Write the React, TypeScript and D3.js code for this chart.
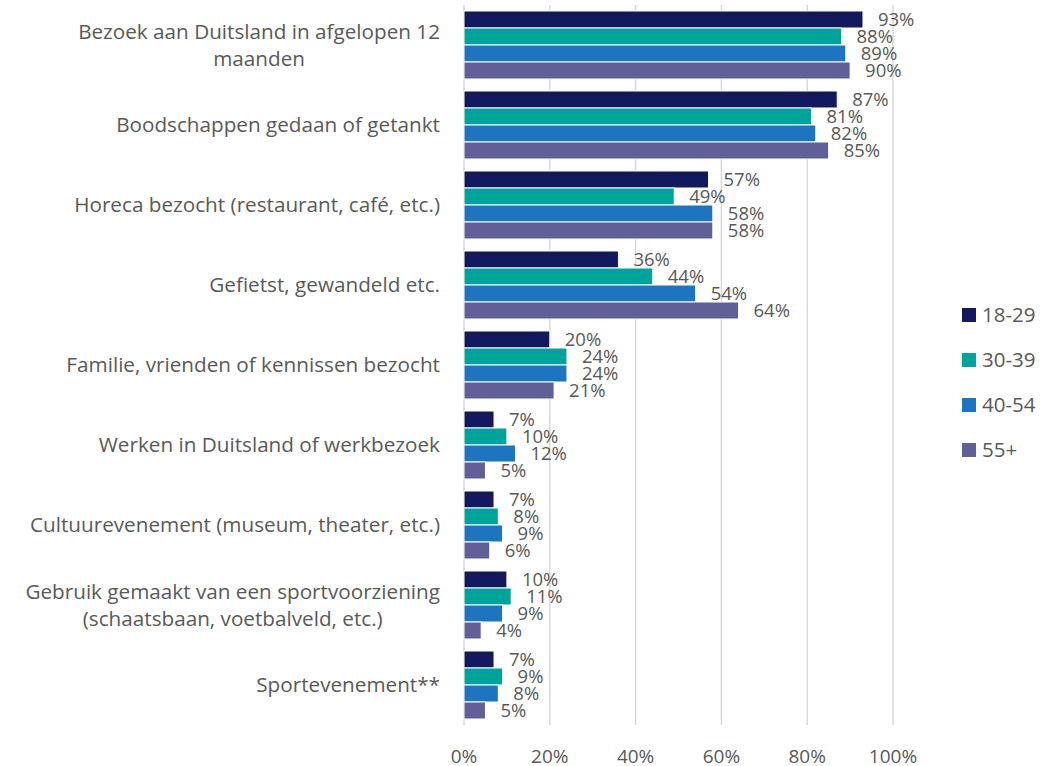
import React, { useEffect, useRef } from "react";
import * as d3 from "d3";

const categories: string[][] = [
  ["Bezoek aan Duitsland in afgelopen 12", "maanden"],
  ["Boodschappen gedaan of getankt"],
  ["Horeca bezocht (restaurant, café, etc.)"],
  ["Gefietst, gewandeld etc."],
  ["Familie, vrienden of kennissen bezocht"],
  ["Werken in Duitsland of werkbezoek"],
  ["Cultuurevenement (museum, theater, etc.)"],
  ["Gebruik gemaakt van een sportvoorziening", "(schaatsbaan, voetbalveld, etc.)"],
  ["Sportevenement**"],
];

const seriesNames = ["18-29", "30-39", "40-54", "55+"];
const s1829 = [93, 87, 57, 36, 20, 7, 7, 10, 7];
const s3039 = [88, 81, 49, 44, 24, 10, 8, 11, 9];
const s4054 = [89, 82, 58, 54, 24, 12, 9, 9, 8];
const s55 = [90, 85, 58, 64, 21, 5, 6, 4, 5];
const seriesValues = [s1829, s3039, s4054, s55];
const colors = ["#12195E", "#00A39A", "#1F74BF", "#5E6096"];
const xTicks = [0, 20, 40, 60, 80, 100];

const W = 1060;
const H = 766;
const FONT = "'Open Sans', sans-serif";
const TXT = "#595959";

export default function App() {
  const ref = useRef<SVGSVGElement>(null);
  useEffect(() => {
    document.body.style.margin = "0";
    const svg = d3.select(ref.current);
    svg.selectAll("*").remove();

    const x = d3.scaleLinear().domain([0, 100]).range([464, 893]);
    const y = d3
      .scaleBand<number>()
      .domain(d3.range(categories.length))
      .range([5, 725])
      .paddingInner(0.15)
      .paddingOuter(0.075);
    const inner = d3
      .scaleBand<number>()
      .domain(d3.range(seriesNames.length))
      .range([0, y.bandwidth()]);

    // gridlines
    svg
      .append("g")
      .selectAll("line")
      .data(xTicks)
      .join("line")
      .attr("x1", (d) => x(d))
      .attr("x2", (d) => x(d))
      .attr("y1", 5)
      .attr("y2", 725)
      .attr("stroke", "#D9D9D9")
      .attr("stroke-width", 1.5);

    // x tick labels
    svg
      .append("g")
      .selectAll("text")
      .data(xTicks)
      .join("text")
      .attr("x", (d) => x(d))
      .attr("y", 756)
      .attr("dy", "0.35em")
      .attr("text-anchor", "middle")
      .attr("font-family", FONT)
      .attr("font-size", 19)
      .attr("fill", TXT)
      .text((d) => `${d}%`);

    // bars
    seriesValues.forEach((vals, si) => {
      const g = svg.append("g");
      g.selectAll("rect")
        .data(vals)
        .join("rect")
        .attr("x", x(0))
        .attr("y", (_, i) => (y(i) as number) + (inner(si) as number))
        .attr("width", (d) => x(d) - x(0))
        .attr("height", inner.bandwidth())
        .attr("fill", colors[si])
        .attr("stroke", "#ffffff")
        .attr("stroke-width", 1);
      g.selectAll("text")
        .data(vals)
        .join("text")
        .attr("x", (d) => x(d) + 15)
        .attr("y", (_, i) => (y(i) as number) + (inner(si) as number) + inner.bandwidth() / 2)
        .attr("dy", "0.37em")
        .attr("font-family", FONT)
        .attr("font-size", 18.5)
        .attr("fill", TXT)
        .text((d) => `${d}%`);
    });

    // category labels
    const lineH = 27;
    const cg = svg.append("g");
    categories.forEach((lines, i) => {
      const cy = (y(i) as number) - y.step() * 0.075 + y.step() / 2;
      const t = cg
        .append("text")
        .attr("font-family", FONT)
        .attr("font-size", 20.7)
        .attr("fill", TXT)
        .attr("text-anchor", "middle");
      const spans = lines.map((l, li) =>
        t
          .append("tspan")
          .attr("y", cy + (li - (lines.length - 1) / 2) * lineH)
          .attr("dy", "0.35em")
          .text(l)
      );
      let maxW = 0;
      spans.forEach((s) => {
        const w = (s.node() as SVGTextContentElement).getComputedTextLength();
        if (w > maxW) maxW = w;
      });
      spans.forEach((s) => s.attr("x", 440 - maxW / 2));
    });

    // legend
    const lg = svg.append("g");
    seriesNames.forEach((n, i) => {
      const ly = 315 + i * 45;
      lg.append("rect")
        .attr("x", 962)
        .attr("y", ly - 7)
        .attr("width", 14)
        .attr("height", 14)
        .attr("fill", colors[i]);
      lg.append("text")
        .attr("x", 982)
        .attr("y", ly)
        .attr("dy", "0.35em")
        .attr("font-family", FONT)
        .attr("font-size", 20.5)
        .attr("fill", TXT)
        .text(n);
    });
  }, []);

  return <svg ref={ref} width={W} height={H} style={{ display: "block", background: "#fff" }} />;
}
